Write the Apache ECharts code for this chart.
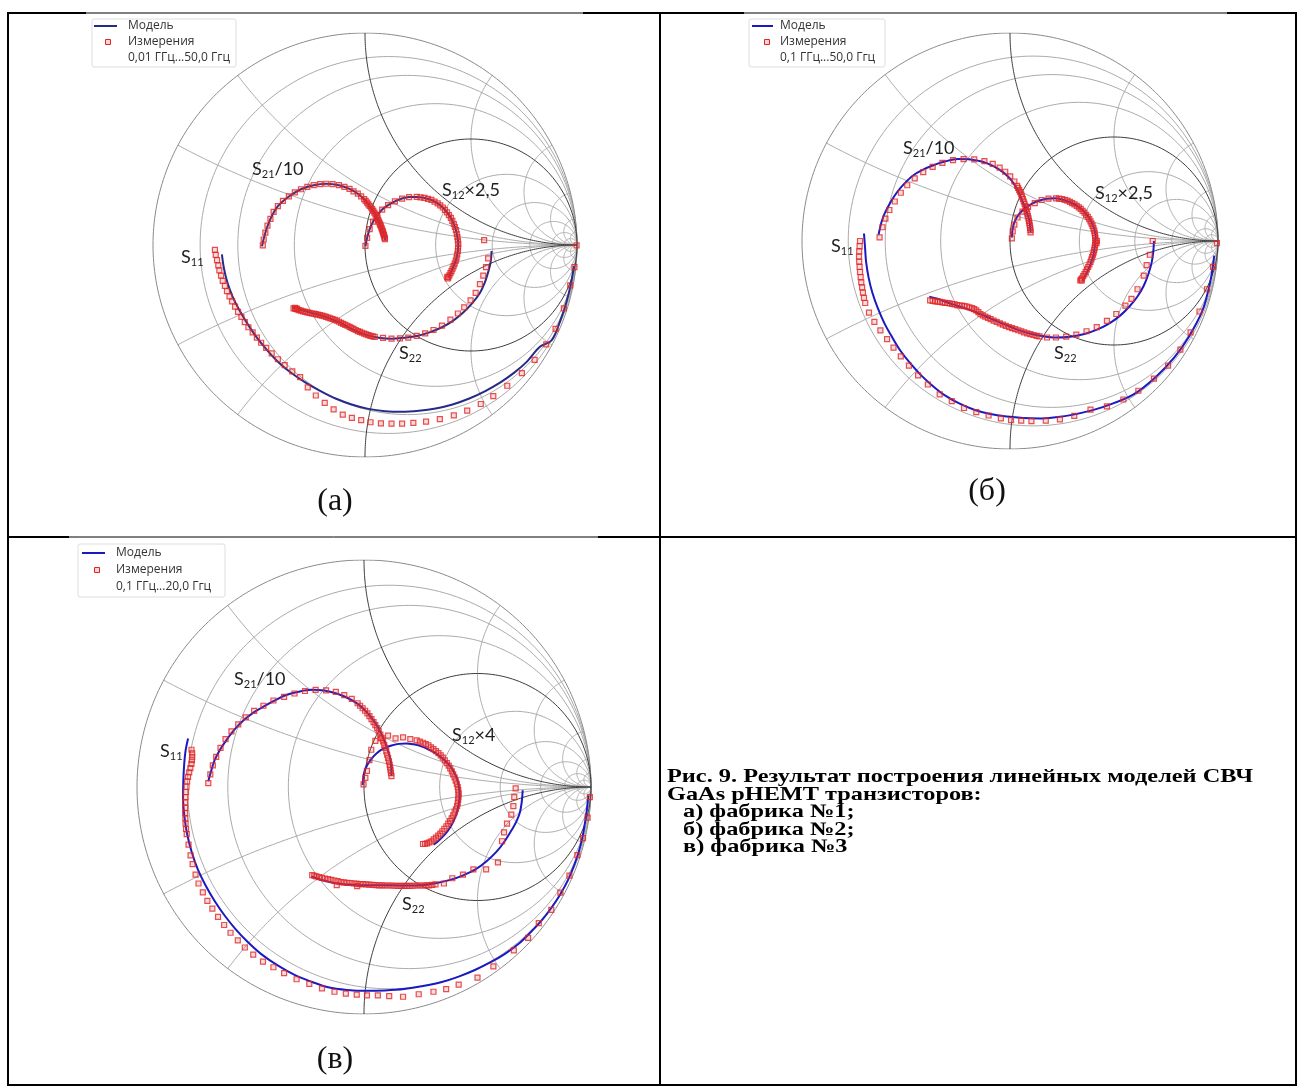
<!DOCTYPE html>
<html><head><meta charset="utf-8">
<script src="https://cdn.jsdelivr.net/npm/echarts@6/dist/echarts.min.js"></script>
<style>html,body{margin:0;padding:0;background:#fff}#c{width:1298px;height:1087px}</style>
</head><body><div id="c"></div>
<script>
// ---------- Smith chart grid values (normalized resistance / reactance) ----------
const resistanceLight = [0.125, 0.25, 0.5, 2, 4, 8, 16, 32];
const resistanceHeavy = [1];
const reactanceLight = [0.25, 0.5, 2, 4, 8, 16, 32];
const reactanceHeavy = [1];

// ---------- legend / label texts ----------
const legendModel = 'Модель';
const legendMeas = 'Измерения';
const rangeTexts = ['0,01 ГГц...50,0 Ггц', '0,1 ГГц...50,0 Ггц', '0,1 ГГц...20,0 Ггц'];
const panelTitles = ['(а)', '(б)', '(в)'];
const s12Factors = ['×2,5', '×2,5', '×4'];
const captionLines = ['Рис. 9. Результат построения линейных моделей СВЧ', 'GaAs pHEMT транзисторов:', 'а) фабрика №1;', 'б) фабрика №2;', 'в) фабрика №3'];

// ---------- Panel (а): reflection-plane values [Re, Im] ----------
const a_S11_model = [[-0.675,-0.044],[-0.665,-0.112],[-0.649,-0.177],[-0.625,-0.242],[-0.593,-0.307],[-0.554,-0.372],[-0.510,-0.437],[-0.460,-0.498],[-0.407,-0.554],[-0.347,-0.604],[-0.282,-0.648],[-0.212,-0.688],[-0.139,-0.724],[-0.063,-0.752],[0.016,-0.773],[0.095,-0.784],[0.175,-0.787],[0.254,-0.782],[0.333,-0.771],[0.413,-0.752],[0.492,-0.724],[0.565,-0.690],[0.637,-0.649],[0.704,-0.602],[0.764,-0.550],[0.825,-0.480],[0.880,-0.450],[0.920,-0.360],[0.950,-0.270],[0.972,-0.180],[0.985,-0.100]];
const a_S11_meas = [[-0.708,-0.023],[-0.704,-0.047],[-0.698,-0.071],[-0.692,-0.096],[-0.687,-0.120],[-0.679,-0.144],[-0.671,-0.169],[-0.661,-0.193],[-0.651,-0.218],[-0.639,-0.242],[-0.627,-0.266],[-0.613,-0.291],[-0.599,-0.315],[-0.583,-0.339],[-0.567,-0.364],[-0.550,-0.388],[-0.530,-0.412],[-0.510,-0.437],[-0.490,-0.461],[-0.466,-0.485],[-0.440,-0.511],[-0.411,-0.539],[-0.379,-0.567],[-0.343,-0.596],[-0.306,-0.623],[-0.270,-0.672],[-0.232,-0.710],[-0.190,-0.745],[-0.148,-0.775],[-0.105,-0.800],[-0.062,-0.815],[-0.018,-0.826],[0.026,-0.836],[0.075,-0.841],[0.125,-0.843],[0.175,-0.843],[0.228,-0.839],[0.288,-0.833],[0.353,-0.821],[0.419,-0.804],[0.482,-0.781],[0.546,-0.750],[0.605,-0.713],[0.671,-0.664],[0.740,-0.604],[0.800,-0.542],[0.855,-0.469],[0.899,-0.396],[0.938,-0.299],[0.968,-0.190],[0.988,-0.104],[0.998,-0.002]];
const a_S21_model = [[-0.486,-0.006],[-0.470,0.058],[-0.446,0.123],[-0.411,0.183],[-0.359,0.229],[-0.302,0.263],[-0.242,0.282],[-0.183,0.289],[-0.123,0.282],[-0.073,0.265],[-0.034,0.242],[-0.004,0.216],[0.022,0.185],[0.044,0.153],[0.062,0.119],[0.075,0.088],[0.085,0.060],[0.093,0.034],[0.096,0.022]];
const a_S21_meas = [[-0.482,-0.002],[-0.478,0.026],[-0.470,0.058],[-0.460,0.091],[-0.446,0.123],[-0.431,0.156],[-0.411,0.183],[-0.387,0.208],[-0.359,0.229],[-0.331,0.248],[-0.302,0.263],[-0.272,0.274],[-0.242,0.282],[-0.212,0.287],[-0.183,0.289],[-0.153,0.287],[-0.123,0.282],[-0.097,0.274],[-0.073,0.265],[-0.054,0.253],[-0.034,0.242],[-0.018,0.229],[-0.004,0.216],[0.003,0.208],[0.010,0.200],[0.016,0.192],[0.022,0.185],[0.028,0.177],[0.034,0.169],[0.039,0.161],[0.044,0.153],[0.049,0.144],[0.054,0.135],[0.058,0.127],[0.062,0.119],[0.066,0.110],[0.069,0.102],[0.072,0.095],[0.075,0.088],[0.078,0.080],[0.081,0.073],[0.083,0.066],[0.085,0.060],[0.087,0.053],[0.089,0.047],[0.091,0.040],[0.093,0.034],[0.094,0.028]];
const a_S12_model = [[0.002,-0.006],[0.010,0.034],[0.022,0.075],[0.038,0.110],[0.058,0.140],[0.081,0.167],[0.109,0.188],[0.141,0.206],[0.175,0.219],[0.208,0.226],[0.244,0.227],[0.280,0.222],[0.313,0.213],[0.343,0.196],[0.367,0.177],[0.387,0.154],[0.405,0.128],[0.419,0.099],[0.429,0.070],[0.436,0.037],[0.440,0.005],[0.438,-0.028],[0.432,-0.060],[0.423,-0.088],[0.413,-0.112],[0.403,-0.133],[0.393,-0.153]];
const a_S12_meas = [[0.002,-0.004],[0.010,0.034],[0.022,0.075],[0.038,0.110],[0.058,0.140],[0.081,0.167],[0.109,0.188],[0.141,0.206],[0.175,0.219],[0.208,0.226],[0.244,0.227],[0.262,0.225],[0.280,0.222],[0.297,0.218],[0.313,0.213],[0.328,0.205],[0.343,0.196],[0.355,0.187],[0.367,0.177],[0.377,0.166],[0.387,0.154],[0.396,0.141],[0.405,0.128],[0.412,0.114],[0.419,0.099],[0.424,0.085],[0.429,0.070],[0.433,0.053],[0.436,0.037],[0.438,0.021],[0.440,0.005],[0.439,-0.012],[0.438,-0.028],[0.435,-0.044],[0.432,-0.060],[0.428,-0.074],[0.423,-0.088],[0.418,-0.100],[0.413,-0.112],[0.408,-0.123],[0.403,-0.133],[0.398,-0.143],[0.393,-0.153],[0.388,-0.150],[0.390,-0.158]];
const a_S22_model = [[0.597,-0.028],[0.593,-0.080],[0.581,-0.128],[0.565,-0.177],[0.542,-0.226],[0.506,-0.274],[0.462,-0.320],[0.413,-0.359],[0.363,-0.388],[0.304,-0.412],[0.244,-0.429],[0.185,-0.437],[0.125,-0.442],[0.065,-0.437],[0.006,-0.424],[-0.044,-0.404],[-0.083,-0.385],[-0.123,-0.364],[-0.163,-0.347],[-0.202,-0.334],[-0.242,-0.323],[-0.282,-0.312],[-0.321,-0.300],[-0.341,-0.295]];
const a_S22_meas = [[0.562,0.023],[0.581,-0.063],[0.571,-0.104],[0.558,-0.144],[0.542,-0.185],[0.522,-0.226],[0.498,-0.261],[0.468,-0.294],[0.438,-0.323],[0.403,-0.352],[0.363,-0.380],[0.323,-0.401],[0.284,-0.417],[0.244,-0.429],[0.204,-0.437],[0.165,-0.440],[0.125,-0.442],[0.085,-0.438],[0.046,-0.433],[0.036,-0.431],[0.026,-0.429],[0.016,-0.425],[0.006,-0.422],[-0.004,-0.418],[-0.014,-0.414],[-0.024,-0.410],[-0.034,-0.406],[-0.044,-0.401],[-0.054,-0.396],[-0.064,-0.391],[-0.073,-0.386],[-0.083,-0.381],[-0.093,-0.377],[-0.103,-0.372],[-0.113,-0.367],[-0.123,-0.362],[-0.133,-0.357],[-0.143,-0.353],[-0.153,-0.349],[-0.163,-0.346],[-0.173,-0.343],[-0.183,-0.339],[-0.192,-0.336],[-0.202,-0.333],[-0.212,-0.331],[-0.222,-0.328],[-0.232,-0.326],[-0.242,-0.324],[-0.252,-0.323],[-0.262,-0.320],[-0.272,-0.318],[-0.282,-0.315],[-0.292,-0.313],[-0.302,-0.310],[-0.312,-0.307],[-0.320,-0.304],[-0.328,-0.301],[-0.337,-0.299],[-0.330,-0.296],[-0.322,-0.300]];

// ---------- Panel (б) ----------
const b_S11_model = [[-0.702,0.036],[-0.697,-0.030],[-0.692,-0.099],[-0.680,-0.175],[-0.662,-0.248],[-0.636,-0.322],[-0.603,-0.397],[-0.565,-0.465],[-0.525,-0.530],[-0.478,-0.590],[-0.427,-0.646],[-0.370,-0.698],[-0.309,-0.745],[-0.242,-0.782],[-0.172,-0.811],[-0.095,-0.832],[-0.015,-0.844],[0.064,-0.851],[0.142,-0.853],[0.220,-0.847],[0.299,-0.836],[0.378,-0.818],[0.456,-0.795],[0.590,-0.740],[0.700,-0.655],[0.790,-0.560],[0.860,-0.460],[0.925,-0.335],[0.962,-0.200],[0.982,-0.070]];
const b_S11_meas = [[-0.721,0.0],[-0.723,-0.025],[-0.725,-0.050],[-0.726,-0.075],[-0.725,-0.099],[-0.723,-0.124],[-0.721,-0.149],[-0.718,-0.174],[-0.715,-0.199],[-0.711,-0.223],[-0.707,-0.248],[-0.702,-0.273],[-0.696,-0.298],[-0.678,-0.344],[-0.652,-0.389],[-0.623,-0.430],[-0.591,-0.472],[-0.560,-0.513],[-0.525,-0.555],[-0.486,-0.599],[-0.442,-0.646],[-0.395,-0.690],[-0.338,-0.737],[-0.280,-0.770],[-0.221,-0.803],[-0.162,-0.823],[-0.103,-0.839],[-0.044,-0.853],[0.005,-0.861],[0.054,-0.864],[0.103,-0.866],[0.172,-0.864],[0.240,-0.858],[0.309,-0.841],[0.387,-0.811],[0.466,-0.795],[0.545,-0.762],[0.617,-0.720],[0.692,-0.662],[0.760,-0.599],[0.819,-0.522],[0.868,-0.439],[0.911,-0.339],[0.947,-0.232],[0.976,-0.124],[0.995,-0.010]];
const b_S21_model = [[-0.632,0.030],[-0.618,0.090],[-0.603,0.132],[-0.575,0.185],[-0.545,0.232],[-0.508,0.276],[-0.466,0.315],[-0.418,0.343],[-0.368,0.364],[-0.310,0.383],[-0.250,0.394],[-0.190,0.392],[-0.132,0.381],[-0.080,0.360],[-0.034,0.331],[0.000,0.300],[0.025,0.265],[0.047,0.224],[0.064,0.182],[0.080,0.140],[0.093,0.099],[0.097,0.070],[0.099,0.041]];
const b_S21_meas = [[-0.627,0.017],[-0.613,0.066],[-0.599,0.108],[-0.580,0.149],[-0.554,0.190],[-0.525,0.232],[-0.494,0.268],[-0.458,0.301],[-0.417,0.331],[-0.372,0.356],[-0.325,0.376],[-0.274,0.389],[-0.223,0.394],[-0.172,0.392],[-0.123,0.384],[-0.083,0.371],[-0.050,0.353],[-0.023,0.333],[0.001,0.311],[0.021,0.286],[0.034,0.265],[0.039,0.255],[0.044,0.245],[0.049,0.235],[0.054,0.224],[0.058,0.213],[0.062,0.202],[0.066,0.190],[0.070,0.179],[0.074,0.167],[0.077,0.156],[0.080,0.144],[0.083,0.132],[0.086,0.120],[0.089,0.109],[0.091,0.097],[0.093,0.086],[0.095,0.075],[0.097,0.063],[0.098,0.052],[0.099,0.041]];
const b_S12_model = [[0.009,0.017],[0.013,0.060],[0.025,0.099],[0.045,0.132],[0.074,0.157],[0.106,0.180],[0.142,0.195],[0.177,0.203],[0.211,0.205],[0.246,0.201],[0.280,0.190],[0.311,0.176],[0.338,0.157],[0.366,0.131],[0.388,0.099],[0.405,0.058],[0.412,0.017],[0.408,-0.025],[0.401,-0.066],[0.391,-0.100],[0.378,-0.132],[0.364,-0.162],[0.348,-0.190]];
const b_S12_meas = [[0.009,0.013],[0.013,0.046],[0.021,0.079],[0.036,0.113],[0.060,0.141],[0.087,0.164],[0.119,0.182],[0.152,0.197],[0.185,0.204],[0.221,0.205],[0.236,0.204],[0.250,0.202],[0.263,0.198],[0.276,0.194],[0.288,0.188],[0.299,0.182],[0.310,0.176],[0.321,0.169],[0.331,0.162],[0.340,0.154],[0.349,0.145],[0.358,0.136],[0.366,0.126],[0.374,0.116],[0.381,0.105],[0.387,0.094],[0.392,0.084],[0.397,0.073],[0.401,0.062],[0.405,0.050],[0.407,0.038],[0.409,0.026],[0.410,0.015],[0.411,0.003],[0.410,-0.009],[0.409,-0.020],[0.407,-0.032],[0.405,-0.043],[0.402,-0.055],[0.399,-0.066],[0.395,-0.078],[0.391,-0.089],[0.387,-0.101],[0.382,-0.113],[0.376,-0.125],[0.370,-0.136],[0.364,-0.148],[0.358,-0.159],[0.352,-0.169],[0.346,-0.179],[0.342,-0.185],[0.338,-0.190],[0.345,-0.190],[0.416,-0.010],[0.418,0.000]];
const b_S22_model = [[0.692,0.000],[0.689,-0.050],[0.682,-0.099],[0.665,-0.160],[0.643,-0.215],[0.612,-0.268],[0.574,-0.315],[0.528,-0.360],[0.476,-0.397],[0.418,-0.426],[0.358,-0.447],[0.290,-0.460],[0.221,-0.464],[0.160,-0.458],[0.103,-0.447],[0.052,-0.432],[0.005,-0.414],[-0.045,-0.393],[-0.093,-0.373],[-0.133,-0.355],[-0.172,-0.339],[-0.220,-0.322],[-0.270,-0.306],[-0.310,-0.292],[-0.348,-0.278],[-0.388,-0.268]];
const b_S22_meas = [[0.686,0.000],[0.672,-0.066],[0.657,-0.116],[0.643,-0.166],[0.613,-0.232],[0.584,-0.278],[0.555,-0.311],[0.511,-0.351],[0.466,-0.384],[0.417,-0.414],[0.368,-0.434],[0.319,-0.450],[0.270,-0.460],[0.221,-0.464],[0.178,-0.464],[0.142,-0.459],[0.128,-0.456],[0.113,-0.452],[0.098,-0.448],[0.083,-0.444],[0.068,-0.439],[0.054,-0.434],[0.040,-0.429],[0.025,-0.424],[0.010,-0.419],[-0.005,-0.414],[-0.020,-0.408],[-0.034,-0.402],[-0.049,-0.396],[-0.064,-0.389],[-0.079,-0.383],[-0.093,-0.376],[-0.106,-0.370],[-0.119,-0.364],[-0.131,-0.358],[-0.142,-0.351],[-0.152,-0.342],[-0.162,-0.334],[-0.172,-0.328],[-0.182,-0.323],[-0.195,-0.319],[-0.207,-0.315],[-0.219,-0.313],[-0.231,-0.311],[-0.243,-0.310],[-0.254,-0.308],[-0.266,-0.305],[-0.278,-0.303],[-0.290,-0.300],[-0.301,-0.298],[-0.313,-0.297],[-0.325,-0.295],[-0.337,-0.293],[-0.348,-0.291],[-0.360,-0.290],[-0.372,-0.288],[-0.384,-0.285]];

// ---------- Panel (в) ----------
const c_S11_model = [[-0.775,0.214],[-0.786,0.160],[-0.792,0.102],[-0.796,0.025],[-0.797,-0.053],[-0.791,-0.130],[-0.779,-0.208],[-0.759,-0.286],[-0.732,-0.363],[-0.697,-0.435],[-0.658,-0.502],[-0.614,-0.566],[-0.566,-0.626],[-0.512,-0.683],[-0.454,-0.735],[-0.382,-0.785],[-0.306,-0.828],[-0.232,-0.858],[-0.158,-0.882],[-0.075,-0.894],[0.009,-0.898],[0.092,-0.896],[0.176,-0.890],[0.260,-0.877],[0.343,-0.859],[0.420,-0.834],[0.491,-0.805],[0.558,-0.772],[0.621,-0.735],[0.680,-0.692],[0.732,-0.642],[0.782,-0.589],[0.825,-0.533],[0.865,-0.472],[0.899,-0.409],[0.925,-0.347],[0.946,-0.285],[0.962,-0.223],[0.973,-0.161],[0.982,-0.099],[0.988,-0.037]];
const c_S11_meas = [[-0.760,0.164],[-0.757,0.148],[-0.757,0.133],[-0.758,0.118],[-0.760,0.102],[-0.765,0.083],[-0.770,0.064],[-0.775,0.045],[-0.779,0.025],[-0.782,0.001],[-0.784,-0.022],[-0.786,-0.045],[-0.788,-0.068],[-0.788,-0.092],[-0.788,-0.115],[-0.787,-0.138],[-0.786,-0.161],[-0.784,-0.185],[-0.781,-0.208],[-0.773,-0.254],[-0.764,-0.301],[-0.755,-0.340],[-0.742,-0.386],[-0.729,-0.425],[-0.710,-0.464],[-0.690,-0.502],[-0.668,-0.536],[-0.643,-0.572],[-0.616,-0.608],[-0.588,-0.642],[-0.556,-0.676],[-0.525,-0.707],[-0.488,-0.738],[-0.445,-0.769],[-0.399,-0.794],[-0.352,-0.820],[-0.297,-0.847],[-0.241,-0.867],[-0.185,-0.887],[-0.130,-0.902],[-0.080,-0.910],[-0.032,-0.915],[0.013,-0.918],[0.061,-0.918],[0.111,-0.921],[0.172,-0.924],[0.241,-0.913],[0.306,-0.902],[0.362,-0.890],[0.417,-0.871],[0.500,-0.840],[0.570,-0.790],[0.660,-0.720],[0.723,-0.665],[0.770,-0.600],[0.825,-0.541],[0.865,-0.465],[0.905,-0.390],[0.940,-0.300],[0.965,-0.225],[0.985,-0.135],[0.995,-0.045]];
const c_S21_model = [[-0.686,0.025],[-0.673,0.072],[-0.658,0.118],[-0.633,0.166],[-0.603,0.211],[-0.568,0.256],[-0.528,0.296],[-0.484,0.330],[-0.436,0.358],[-0.390,0.383],[-0.343,0.405],[-0.288,0.420],[-0.232,0.428],[-0.176,0.425],[-0.121,0.412],[-0.072,0.392],[-0.028,0.366],[0.012,0.330],[0.046,0.288],[0.072,0.243],[0.093,0.195],[0.107,0.156],[0.117,0.118],[0.120,0.083],[0.121,0.048]];
const c_S21_meas = [[-0.686,0.017],[-0.677,0.056],[-0.666,0.095],[-0.651,0.133],[-0.632,0.172],[-0.610,0.211],[-0.584,0.245],[-0.554,0.276],[-0.521,0.307],[-0.484,0.335],[-0.443,0.358],[-0.399,0.381],[-0.352,0.397],[-0.306,0.412],[-0.260,0.423],[-0.213,0.428],[-0.167,0.426],[-0.124,0.419],[-0.087,0.405],[-0.054,0.388],[-0.028,0.369],[-0.017,0.358],[-0.006,0.347],[0.005,0.336],[0.015,0.324],[0.024,0.312],[0.033,0.299],[0.042,0.286],[0.050,0.273],[0.058,0.259],[0.065,0.245],[0.072,0.231],[0.078,0.216],[0.084,0.201],[0.089,0.186],[0.094,0.172],[0.098,0.157],[0.102,0.142],[0.106,0.127],[0.110,0.113],[0.113,0.099],[0.115,0.087],[0.117,0.074],[0.119,0.061],[0.121,0.048]];
const c_S12_model = [[-0.006,0.009],[-0.002,0.050],[0.009,0.087],[0.030,0.121],[0.056,0.149],[0.087,0.170],[0.121,0.183],[0.153,0.190],[0.185,0.192],[0.218,0.188],[0.250,0.180],[0.283,0.166],[0.315,0.149],[0.345,0.127],[0.371,0.102],[0.392,0.073],[0.408,0.040],[0.418,0.002],[0.421,-0.037],[0.417,-0.077],[0.408,-0.115],[0.396,-0.147],[0.380,-0.177],[0.362,-0.202],[0.343,-0.223],[0.325,-0.240],[0.306,-0.254]];
const c_S12_meas = [[-0.002,0.012],[0.006,0.040],[0.013,0.071],[0.024,0.118],[0.032,0.164],[0.050,0.203],[0.074,0.214],[0.106,0.226],[0.139,0.214],[0.172,0.219],[0.204,0.211],[0.232,0.205],[0.246,0.200],[0.260,0.195],[0.272,0.189],[0.284,0.183],[0.295,0.175],[0.306,0.167],[0.317,0.158],[0.328,0.149],[0.338,0.139],[0.347,0.129],[0.356,0.117],[0.365,0.105],[0.373,0.094],[0.380,0.082],[0.387,0.069],[0.393,0.056],[0.399,0.042],[0.404,0.028],[0.409,0.014],[0.413,0.000],[0.415,-0.014],[0.417,-0.028],[0.416,-0.042],[0.415,-0.056],[0.413,-0.070],[0.410,-0.084],[0.405,-0.098],[0.399,-0.112],[0.393,-0.125],[0.386,-0.138],[0.379,-0.150],[0.371,-0.161],[0.363,-0.173],[0.354,-0.184],[0.345,-0.195],[0.336,-0.205],[0.327,-0.214],[0.317,-0.223],[0.307,-0.231],[0.297,-0.239],[0.288,-0.244],[0.278,-0.248],[0.269,-0.250],[0.260,-0.251]];
const c_S22_model = [[0.699,-0.014],[0.695,-0.065],[0.686,-0.115],[0.670,-0.155],[0.649,-0.192],[0.619,-0.240],[0.584,-0.285],[0.540,-0.327],[0.491,-0.363],[0.437,-0.389],[0.380,-0.409],[0.316,-0.424],[0.250,-0.433],[0.185,-0.434],[0.121,-0.433],[0.056,-0.433],[-0.009,-0.433],[-0.065,-0.430],[-0.121,-0.425],[-0.178,-0.412],[-0.232,-0.394]];
const c_S22_meas = [[0.668,-0.006],[0.662,-0.045],[0.658,-0.084],[0.649,-0.122],[0.630,-0.161],[0.617,-0.200],[0.608,-0.239],[0.590,-0.332],[0.538,-0.363],[0.482,-0.363],[0.436,-0.386],[0.389,-0.402],[0.352,-0.425],[0.315,-0.429],[0.301,-0.431],[0.287,-0.433],[0.274,-0.433],[0.260,-0.434],[0.246,-0.434],[0.232,-0.434],[0.218,-0.435],[0.204,-0.436],[0.190,-0.436],[0.176,-0.436],[0.162,-0.436],[0.148,-0.436],[0.134,-0.435],[0.121,-0.434],[0.107,-0.434],[0.093,-0.434],[0.079,-0.433],[0.065,-0.433],[0.051,-0.432],[0.037,-0.431],[0.023,-0.430],[0.009,-0.429],[-0.005,-0.428],[-0.019,-0.428],[-0.033,-0.426],[-0.046,-0.425],[-0.060,-0.423],[-0.074,-0.422],[-0.088,-0.420],[-0.102,-0.419],[-0.116,-0.415],[-0.130,-0.412],[-0.144,-0.409],[-0.158,-0.406],[-0.172,-0.403],[-0.185,-0.400],[-0.198,-0.397],[-0.210,-0.394],[-0.219,-0.391],[-0.228,-0.388],[-0.120,-0.432],[-0.030,-0.437]];

// ---------- layout (pixel positions, styles) ----------
const layout = [
  {cx:365, cy:245, R:212, model:'#272b88', legend:{x:92, y:19, w:144, h:48, lx1:94, lx2:117, mx:108, tx:128, ty:[26,42,58]},
   title:{x:335, y:502}, labels:{s21:[252,169], s12:[442,190], s11:[181,257], s22:[399,353]}},
  {cx:1010, cy:241, R:208, model:'#1a1ac2', legend:{x:749, y:19, w:136, h:48, lx1:752, lx2:773, mx:767, tx:780, ty:[26,42,58]},
   title:{x:987, y:492}, labels:{s21:[903,148], s12:[1095,193], s11:[831,246], s22:[1054,353]}},
  {cx:364, cy:787, R:227, model:'#1a1ac2', legend:{x:78, y:544, w:147, h:53, lx1:82, lx2:105, mx:97, tx:116, ty:[553,570,587]},
   title:{x:335, y:1060}, labels:{s21:[234,679], s12:[452,735], s11:[160,751], s22:[402,904]}}
];
const panelData = [
  {S11:[a_S11_model,a_S11_meas], S21:[a_S21_model,a_S21_meas], S12:[a_S12_model,a_S12_meas], S22:[a_S22_model,a_S22_meas]},
  {S11:[b_S11_model,b_S11_meas], S21:[b_S21_model,b_S21_meas], S12:[b_S12_model,b_S12_meas], S22:[b_S22_model,b_S22_meas]},
  {S11:[c_S11_model,c_S11_meas], S21:[c_S21_model,c_S21_meas], S12:[c_S12_model,c_S12_meas], S22:[c_S22_model,c_S22_meas]}
];

// ---------- Smith chart grid geometry ----------
function circlePts(cx, cy, rho, n) {
  const pts = [];
  for (let i = 0; i <= n; i++) { const t = 2*Math.PI*i/n; pts.push([cx + rho*Math.cos(t), cy + rho*Math.sin(t)]); }
  return pts;
}
function reactancePts(x, n) {
  const ax = Math.abs(x), s = Math.sign(x), rho = 1/ax;
  const px = (ax*ax - 1)/(ax*ax + 1), py = 2*ax/(ax*ax + 1);
  let t1 = Math.atan2(py - rho, px - 1);
  if (t1 > -Math.PI/2) t1 -= 2*Math.PI;
  const t0 = -Math.PI/2, pts = [];
  for (let i = 0; i <= n; i++) { const t = t0 + (t1 - t0)*i/n; pts.push([1 + rho*Math.cos(t), s*(rho + rho*Math.sin(t))]); }
  return pts;
}
const lightLines = [], heavyLines = [];
resistanceLight.forEach(r => lightLines.push({coords: circlePts(r/(1+r), 0, 1/(1+r), 200)}));
reactanceLight.forEach(x => { lightLines.push({coords: reactancePts(x, 160)}); lightLines.push({coords: reactancePts(-x, 160)}); });
resistanceHeavy.forEach(r => heavyLines.push({coords: circlePts(r/(1+r), 0, 1/(1+r), 200)}));
reactanceHeavy.forEach(x => { heavyLines.push({coords: reactancePts(x, 160)}); heavyLines.push({coords: reactancePts(-x, 160)}); });
const outerLine = [{coords: circlePts(0, 0, 1, 300)}];

// ---------- build option ----------
const grids = [], xAxes = [], yAxes = [], series = [], graphics = [];
const measStyle = {color:'rgba(235,60,60,0.22)', borderColor:'#e02525', borderWidth:1.2};
const labelFont = 'Lato, "Open Sans", sans-serif';

layout.forEach((p, i) => {
  grids.push({left: p.cx - p.R, top: p.cy - p.R, width: 2*p.R, height: 2*p.R, containLabel:false});
  xAxes.push({type:'value', gridIndex:i, min:-1, max:1, show:false});
  yAxes.push({type:'value', gridIndex:i, min:-1, max:1, show:false});
  const base = {xAxisIndex:i, yAxisIndex:i, silent:true, animation:false};
  series.push(Object.assign({type:'lines', coordinateSystem:'cartesian2d', polyline:true, data: lightLines, lineStyle:{color:'#ababab', width:1, opacity:1}, z:1}, base));
  series.push(Object.assign({type:'lines', coordinateSystem:'cartesian2d', polyline:true, data: outerLine, lineStyle:{color:'#8a8a8a', width:1, opacity:1}, z:1}, base));
  series.push(Object.assign({type:'lines', coordinateSystem:'cartesian2d', polyline:true, data: heavyLines, lineStyle:{color:'#3c3c3c', width:1, opacity:1}, z:2}, base));
  ['S11','S21','S12','S22'].forEach(k => {
    series.push(Object.assign({type:'line', name:legendModel, data: panelData[i][k][0], smooth:0.35, showSymbol:false, lineStyle:{color:p.model, width:2}, z:3}, base));
    series.push(Object.assign({type:'scatter', name:legendMeas, data: panelData[i][k][1], symbol:'rect', symbolSize:5, itemStyle:measStyle, z:4}, base));
  });

  // legend box
  const L = p.legend;
  graphics.push({type:'rect', shape:{x:L.x, y:L.y, width:L.w, height:L.h, r:2}, style:{fill:'rgba(255,255,255,0.85)', stroke:'#dedede', lineWidth:1}, z:50});
  graphics.push({type:'line', shape:{x1:L.lx1, y1:L.ty[0], x2:L.lx2, y2:L.ty[0]}, style:{stroke:p.model, lineWidth:2}, z:51});
  graphics.push({type:'rect', shape:{x:L.mx-2.5, y:L.ty[1]-2.5, width:5, height:5}, style:{fill:'rgba(235,60,60,0.22)', stroke:'#e02525', lineWidth:1}, z:51});
  [legendModel, legendMeas, rangeTexts[i]].forEach((t, j) => {
    graphics.push({type:'text', x:L.tx, y:L.ty[j], style:{text:t, fill:'#333', font:'12px "Open Sans", sans-serif', verticalAlign:'middle'}, z:51});
  });

  // curve labels
  const rich = {m:{fontSize:18, fontFamily:labelFont, fill:'#1e1e1e', lineHeight:22}, s:{fontSize:11, fontFamily:labelFont, fill:'#1e1e1e', lineHeight:14, verticalAlign:'bottom'}};
  const lab = (pos, txt) => graphics.push({type:'text', x:pos[0], y:pos[1], style:{text:txt, rich:rich, verticalAlign:'middle'}, z:52});
  lab(p.labels.s21, '{m|S}{s|21}{m|/10}');
  lab(p.labels.s12, '{m|S}{s|12}{m|' + s12Factors[i] + '}');
  lab(p.labels.s11, '{m|S}{s|11}');
  lab(p.labels.s22, '{m|S}{s|22}');

  // panel title
  graphics.push({type:'text', x:p.title.x, y:p.title.y, style:{text:panelTitles[i], fill:'#111', font:'32px "Liberation Serif", serif', align:'center', verticalAlign:'middle'}, z:52});
});

// caption
const capY = [777, 795, 812, 830, 847];
const capX = [667, 667, 683, 683, 683];
captionLines.forEach((t, j) => {
  graphics.push({type:'text', x:capX[j], y:capY[j], scaleX:1.28, style:{text:t, fill:'#000', font:'bold 19px "Liberation Serif", serif', verticalAlign:'middle'}, z:52});
});

// table borders
const B = '#000';
const seg = (x1,y1,x2,y2,w) => graphics.push({type:'line', shape:{x1,y1,x2,y2}, style:{stroke:B, lineWidth:w}, z:60});
seg(7,13,86,13,2); seg(86,13,583,13,1); seg(583,13,744,13,2); seg(744,13,1227,13,1); seg(1227,13,1297,13,2);
seg(7,537,69,537,2); seg(69,537,598,537,1); seg(598,537,1297,537,2);
seg(7,1085,1297,1085,2);
seg(8,12,8,1086,2); seg(660,12,660,1086,2); seg(1296,12,1296,1086,2);

const chart = echarts.init(document.getElementById('c'), null, {renderer:'canvas', width:1298, height:1087});
chart.setOption({animation:false, backgroundColor:'#fff', grid:grids, xAxis:xAxes, yAxis:yAxes, series:series, graphic:graphics});
</script>
</body></html>
